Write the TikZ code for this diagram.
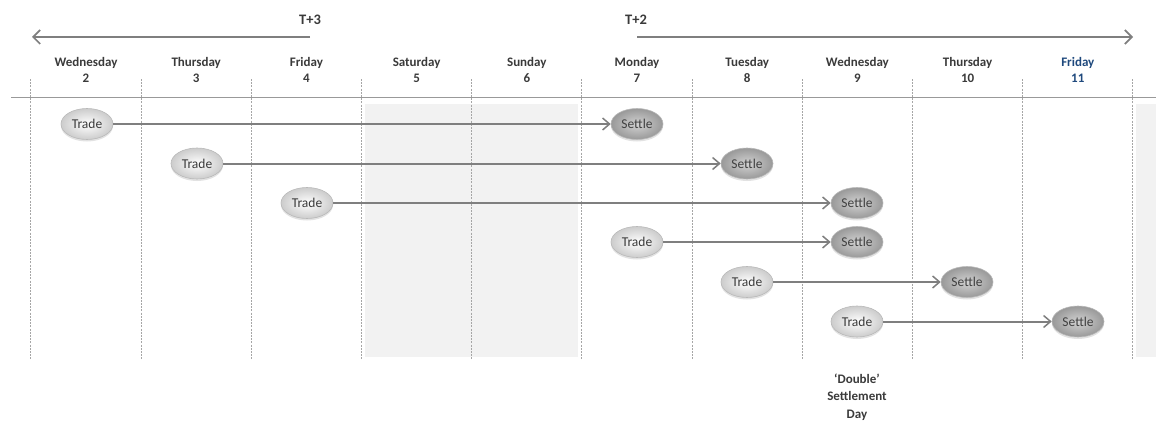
\documentclass[tikz,border=0pt]{standalone}
\usepackage{fontspec}
\setmainfont{Carlito}
\usetikzlibrary{arrows.meta,shapes.geometric,shadows}
\definecolor{txt}{HTML}{3A3A3A}
\definecolor{blu}{HTML}{1F497D}
\definecolor{lin}{HTML}{7F7F7F}
\definecolor{wk}{HTML}{F2F2F2}
\tikzset{
  hdr/.style={font=\fontsize{13}{16}\selectfont\bfseries, text=txt, align=center},
  bubble/.style={ellipse, minimum width=52pt, minimum height=31pt, inner sep=0pt,
     draw=gray!55, line width=0.6pt, font=\fontsize{13.5}{15}\selectfont, text=txt,
     drop shadow={shadow xshift=0pt, shadow yshift=-2pt, fill=gray!50, opacity=0.45}},
  trade/.style={bubble, shading=radial, inner color=white, outer color=gray!40},
  settle/.style={bubble, shading=radial, inner color=gray!35, outer color=gray!80, text=black!75},
  conn/.style={draw=lin, line width=2pt, -{Straight Barb[length=7pt,width=12pt,line width=1.5pt]}},
  bigarrow/.style={draw=lin, line width=2.2pt, -{Straight Barb[length=7pt,width=14pt,line width=1.7pt]}},
  vline/.style={draw=gray!70, line width=0.9pt, dash pattern=on 2pt off 1.2pt},
}
\begin{document}
\begin{tikzpicture}[x=1pt,y=-1pt]
\useasboundingbox (0,0) rectangle (1156,428);
% weekend shading
\fill[wk] (365,104) rectangle (578,357);
\fill[wk] (1136,104) rectangle (1156,357);
% dashed day separators
\foreach \k in {0,...,10} {
  \draw[vline] ({30.9+110.2*\k},79) -- ({30.9+110.2*\k},359);
}
% horizontal rule
\draw[draw=gray!80, line width=1.4pt] (11,97.5) -- (1156,97.5);
% day headers
\node[hdr] (d1) at (86,70) {Wednesday\\2};
\node[hdr] (d2) at (196.2,70) {Thursday\\3};
\node[hdr] (d3) at (306.4,70) {Friday\\4};
\node[hdr] (d4) at (416.6,70) {Saturday\\5};
\node[hdr] (d5) at (526.8,70) {Sunday\\6};
\node[hdr] (d6) at (637,70) {Monday\\7};
\node[hdr] (d7) at (747.2,70) {Tuesday\\8};
\node[hdr] (d8) at (857.4,70) {Wednesday\\9};
\node[hdr] (d9) at (967.6,70) {Thursday\\10};
\node[hdr, text=blu] (d10) at (1077.8,70) {Friday\\11};
% T+3 / T+2
\node[hdr, font=\fontsize{14.5}{16}\selectfont\bfseries] (lt3) at (310,19.5) {T+3};
\node[hdr, font=\fontsize{14.5}{16}\selectfont\bfseries] (lt2) at (636,19.5) {T+2};
\coordinate (a3s) at (310,37);
\coordinate (a3e) at (32,37);
\coordinate (a2s) at (637,37);
\coordinate (a2e) at (1133,37);
\draw[bigarrow] (a3s) -- (a3e);
\draw[bigarrow] (a2s) -- (a2e);
% trades and settlements
\node[trade] (t1) at (87,124) {Trade};
\node[settle] (s1) at (637,124) {Settle};
\node[trade] (t2) at (197,163.5) {Trade};
\node[settle] (s2) at (747,163.5) {Settle};
\node[trade] (t3) at (307,203) {Trade};
\node[settle] (s3) at (857,203) {Settle};
\node[trade] (t4) at (637,242) {Trade};
\node[settle] (s4) at (857,242) {Settle};
\node[trade] (t5) at (747,282) {Trade};
\node[settle] (s5) at (967,282) {Settle};
\node[trade] (t6) at (857,321.5) {Trade};
\node[settle] (s6) at (1078,321.5) {Settle};
\foreach \i in {1,...,6} { \draw[conn] (t\i) -- (s\i); }
% note
\node[hdr, font=\fontsize{13}{17.5}\selectfont\bfseries] (note) at (857,397) {`Double'\\Settlement\\Day};
\end{tikzpicture}
\end{document}
